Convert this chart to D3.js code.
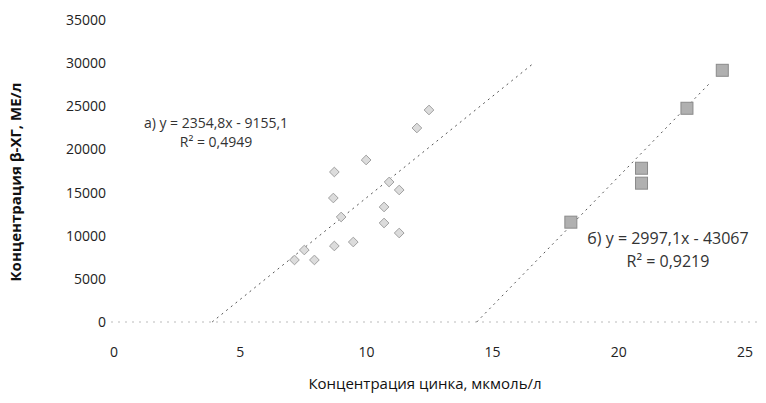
<!DOCTYPE html>
<html>
<head>
<meta charset="utf-8">
<script src="https://cdn.jsdelivr.net/npm/d3@7"></script>
<style>
  body { margin: 0; background: #fff; }
  text { font-family: "Open Sans", sans-serif; }
</style>
</head>
<body>
<div id="chart"></div>
<script>
// series а) (diamonds)
const zincA = [7.15, 7.54, 7.94, 8.73, 8.69, 8.73, 9.0, 9.48, 9.99, 10.7, 10.7, 10.9, 11.3, 11.3, 12.0, 12.48];
const hcgA  = [7190, 8345, 7190, 8810, 14370, 17385, 12170, 9270, 18775, 13330, 11475, 16225, 10315, 15300, 22485, 24570];
// series б) (squares)
const zincB = [18.1, 20.9, 20.9, 22.7, 24.1];
const hcgB  = [11570, 16090, 17820, 24770, 29170];

// trendlines: slope, intercept, drawn x range
const trendA = { k: 2354.8, b: -9155.1, from: 3.89, to: 16.6 };
const trendB = { k: 2997.1, b: -43067, from: 14.37, to: 23.6 };

const xTicks = [0, 5, 10, 15, 20, 25];
const yTicks = [0, 5000, 10000, 15000, 20000, 25000, 30000, 35000];

const labelA = ["а) y = 2354,8x - 9155,1", "R² = 0,4949"];
const labelB = ["б) y = 2997,1x - 43067", "R² = 0,9219"];

const width = 766, height = 403;
const svg = d3.select("#chart").append("svg")
    .attr("width", width)
    .attr("height", height);

const x = d3.scaleLinear().domain([0, 25]).range([114, 745]);
const y = d3.scaleLinear().domain([0, 35000]).range([322, 20]);

// faint dotted x axis line at zero
svg.append("line")
    .attr("x1", x(0) - 3).attr("x2", width - 5)
    .attr("y1", y(0)).attr("y2", y(0))
    .attr("stroke", "#bbb")
    .attr("stroke-dasharray", "2,5");

// tick labels
svg.selectAll(".ylab")
    .data(yTicks)
    .enter()
    .append("text")
    .attr("class", "ylab")
    .attr("x", 106)
    .attr("y", d => y(d) + 5)
    .style("text-anchor", "end")
    .style("font-size", "14px")
    .attr("fill", "#222")
    .text(d => d);

svg.selectAll(".xlab")
    .data(xTicks)
    .enter()
    .append("text")
    .attr("class", "xlab")
    .attr("x", d => x(d))
    .attr("y", 357)
    .style("text-anchor", "middle")
    .style("font-size", "14px")
    .attr("fill", "#222")
    .text(d => d);

// axis titles
svg.append("text")
    .attr("x", 425)
    .attr("y", 389)
    .style("text-anchor", "middle")
    .style("font-size", "15px")
    .attr("fill", "#111")
    .text("Концентрация цинка, мкмоль/л");

svg.append("text")
    .attr("transform", "translate(21,182) rotate(-90)")
    .style("text-anchor", "middle")
    .style("font-size", "15px")
    .style("font-weight", "bold")
    .attr("fill", "#111")
    .text("Концентрация β-ХГ, МЕ/л");

// trendlines
const line = d3.line().x(d => x(d[0])).y(d => y(d[1]));
[trendA, trendB].forEach(t => {
    svg.append("path")
        .attr("d", line([[t.from, t.k * t.from + t.b], [t.to, t.k * t.to + t.b]]))
        .attr("fill", "none")
        .attr("stroke", "#555")
        .attr("stroke-width", 1)
        .attr("stroke-dasharray", "2,4");
});

// points а)
const ptsA = zincA.map((v, i) => [v, hcgA[i]]);
svg.selectAll(".ptA")
    .data(ptsA)
    .enter()
    .append("path")
    .attr("class", "ptA")
    .attr("d", d3.symbol(d3.symbolDiamond2, 60))
    .attr("transform", d => `translate(${x(d[0])},${y(d[1])})`)
    .attr("fill", "#dcdcdc")
    .attr("stroke", "#a0a0a0")
    .attr("stroke-width", 1);

// points б)
const ptsB = zincB.map((v, i) => [v, hcgB[i]]);
svg.selectAll(".ptB")
    .data(ptsB)
    .enter()
    .append("rect")
    .attr("class", "ptB")
    .attr("x", d => x(d[0]) - 6)
    .attr("y", d => y(d[1]) - 6)
    .attr("width", 12)
    .attr("height", 12)
    .attr("fill", "#b0b0b0")
    .attr("stroke", "#8a8a8a");

// equation labels
function eqLabel(lines, cx, cy, size, gap) {
    lines.forEach((s, i) => {
        svg.append("text")
            .attr("x", cx)
            .attr("y", cy + i * gap)
            .style("text-anchor", "middle")
            .style("font-size", size + "px")
            .attr("fill", "#333")
            .text(s);
    });
}
eqLabel(labelA, 216, 128, 14, 19);
eqLabel(labelB, 668, 244, 16, 23);
</script>
</body>
</html>
